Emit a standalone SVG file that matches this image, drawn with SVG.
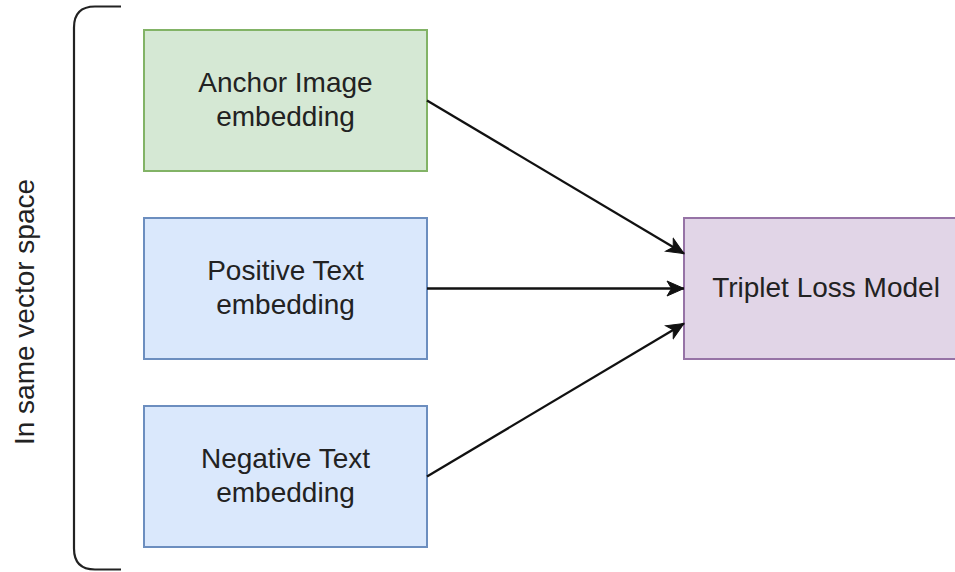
<svg xmlns="http://www.w3.org/2000/svg" width="955" height="572" viewBox="0 0 955 572">
  <style>
    .lbl { font-family: "Liberation Sans", Arial, sans-serif; font-size: 28px; fill: #222; text-anchor: middle; }
    .green { fill: #d5e8d4; stroke: #82b366; stroke-width: 2; }
    .blue { fill: #dae8fc; stroke: #6c8ebf; stroke-width: 2; }
    .purple { fill: #e1d5e7; stroke: #9673a6; stroke-width: 2; }
    .edge { fill: none; stroke: #111; stroke-width: 2.3; marker-end: url(#arrow); }
  </style>
  <defs>
    <marker id="arrow" markerUnits="userSpaceOnUse" markerWidth="20" markerHeight="20" viewBox="-18 -10 20 20" refX="0" refY="0" orient="auto">
      <path d="M0,0 L-17,-7.5 L-12.5,0 L-17,7.5 Z" fill="#111" stroke="#111" stroke-width="1"/>
    </marker>
  </defs>
  <rect width="955" height="572" fill="#ffffff"/>

  <g id="bracket">
    <path d="M121,6.5 H95 Q74,6.5 74,27.5 V548.5 Q74,569.5 95,569.5 H121" fill="none" stroke="#222" stroke-width="2.2"/>
    <text class="lbl" transform="translate(34,312) rotate(-90)" x="0" y="0">In same vector space</text>
  </g>

  <g id="anchor">
    <rect class="green" x="144" y="30" width="283" height="141"/>
    <text class="lbl" x="285.5" y="92">Anchor Image</text>
    <text class="lbl" x="285.5" y="126">embedding</text>
  </g>

  <g id="positive">
    <rect class="blue" x="144" y="218" width="283" height="141"/>
    <text class="lbl" x="285.5" y="280">Positive Text</text>
    <text class="lbl" x="285.5" y="314">embedding</text>
  </g>

  <g id="negative">
    <rect class="blue" x="144" y="406" width="283" height="141"/>
    <text class="lbl" x="285.5" y="468">Negative Text</text>
    <text class="lbl" x="285.5" y="502">embedding</text>
  </g>

  <g id="triplet">
    <rect class="purple" x="684" y="218" width="290" height="141"/>
    <text class="lbl" x="826" y="297">Triplet Loss Model</text>
  </g>

  <g id="connectors">
    <path class="edge" d="M427,100.5 L684,253.5"/>
    <path class="edge" d="M427,288.5 L684,288.5"/>
    <path class="edge" d="M427,476.5 L684,323.5"/>
  </g>
</svg>
